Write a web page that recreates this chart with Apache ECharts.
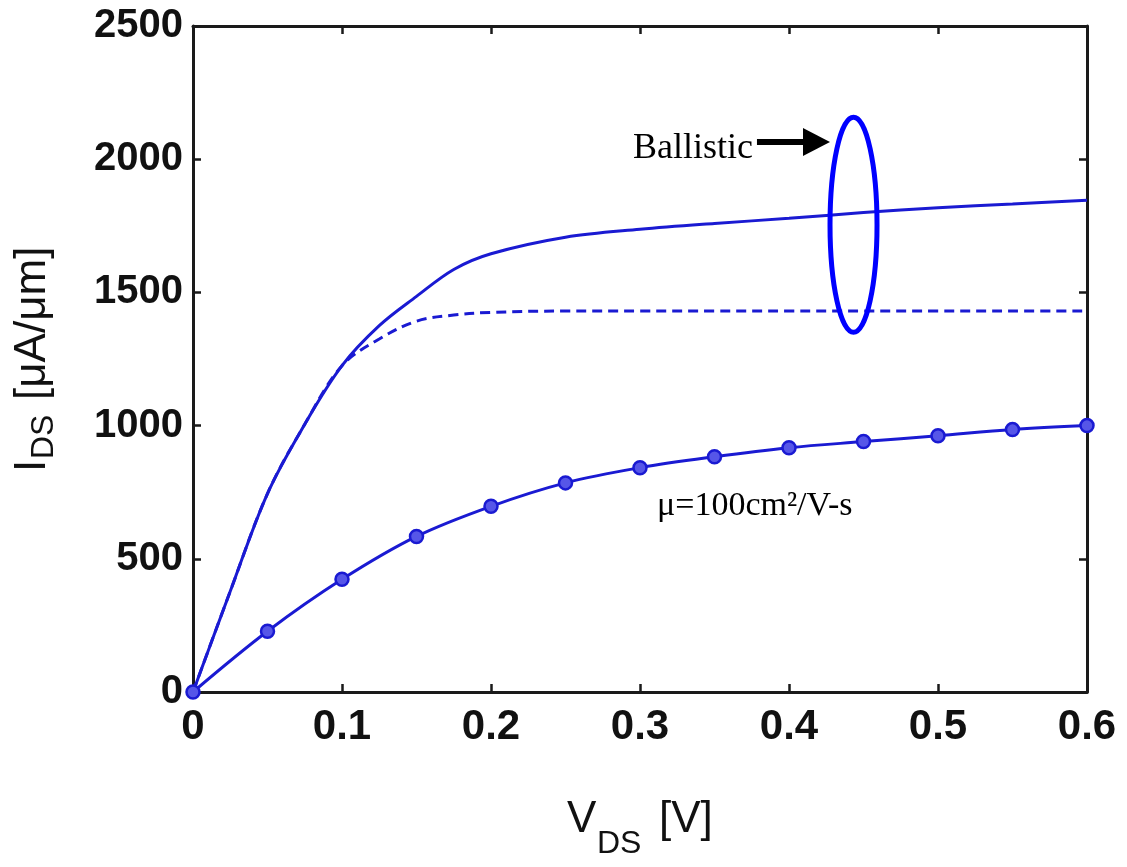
<!DOCTYPE html>
<html>
<head>
<meta charset="utf-8">
<title>I-V characteristics</title>
<script src="https://cdn.jsdelivr.net/npm/echarts@6/dist/echarts.min.js"></script>
<style>
  html, body { margin: 0; padding: 0; background: #fff; }
  #chart { width: 1127px; height: 867px; }
</style>
</head>
<body>
<div id="chart"></div>
<script>
// Drain voltage samples (V)
const vdsFine = [0, 0.025, 0.05, 0.075, 0.1, 0.125, 0.15, 0.175, 0.2, 0.25, 0.3, 0.35, 0.4, 0.45, 0.5, 0.55, 0.6];
const vdsCoarse = [0, 0.05, 0.1, 0.15, 0.2, 0.25, 0.3, 0.35, 0.4, 0.45, 0.5, 0.55, 0.6];

// Drain current (uA/um)
const idsBallisticSolid = [0, 378, 745, 1005, 1225, 1375, 1485, 1586, 1645, 1707, 1737, 1759, 1778, 1800, 1818, 1832, 1846];
const idsBallisticDashed = [0, 378, 745, 1005, 1225, 1325, 1392, 1415, 1425, 1430, 1430, 1430, 1430, 1430, 1430, 1430, 1430];
const idsMobility = [0, 228, 423, 584, 697, 785, 842, 883, 917, 940, 962, 985, 1000];

// Tick labels
const xTickLabels = ['0', '0.1', '0.2', '0.3', '0.4', '0.5', '0.6'];
const yTickLabels = ['0', '500', '1000', '1500', '2000', '2500'];

const LINE_BLUE = '#1a1ad2';
const AXIS_COLOR = '#1a1a1a';
const SANS = '"Liberation Sans", Arial, Helvetica, sans-serif';
const SERIF = '"Liberation Serif", "Times New Roman", serif';

const pairs = (xs, ys) => xs.map((x, i) => [x, ys[i]]);

const axisLineStyle = { show: true, onZero: false, lineStyle: { color: AXIS_COLOR, width: 3 } };
const axisTickStyle = { show: true, inside: true, length: 8, lineStyle: { color: AXIS_COLOR, width: 2.5 } };

const chart = echarts.init(document.getElementById('chart'), null, { renderer: 'canvas' });

const option = {
  backgroundColor: '#ffffff',
  animation: false,
  grid: { left: 193, right: 40, top: 26, bottom: 175, containLabel: false },
  xAxis: [
    {
      type: 'value', position: 'bottom', min: 0, max: 0.6, interval: 0.1,
      axisLine: axisLineStyle, axisTick: axisTickStyle, splitLine: { show: false },
      axisLabel: {
        margin: 14, color: '#111', fontFamily: SANS, fontSize: 42, fontWeight: 'bold',
        formatter: v => xTickLabels[Math.round(v / 0.1)]
      }
    },
    {
      type: 'value', position: 'top', min: 0, max: 0.6, interval: 0.1,
      axisLine: axisLineStyle, axisTick: axisTickStyle, splitLine: { show: false },
      axisLabel: { show: false }
    }
  ],
  yAxis: [
    {
      type: 'value', position: 'left', min: 0, max: 2500, interval: 500,
      axisLine: axisLineStyle, axisTick: axisTickStyle, splitLine: { show: false },
      axisLabel: {
        margin: 10, color: '#111', fontFamily: SANS, fontSize: 40, fontWeight: 'bold',
        formatter: v => yTickLabels[Math.round(v / 500)]
      }
    },
    {
      type: 'value', position: 'right', min: 0, max: 2500, interval: 500,
      axisLine: axisLineStyle, axisTick: axisTickStyle, splitLine: { show: false },
      axisLabel: { show: false }
    }
  ],
  series: [
    {
      name: 'Ballistic', type: 'line', xAxisIndex: 0, yAxisIndex: 0,
      data: pairs(vdsFine, idsBallisticSolid),
      smooth: 0.35, showSymbol: false,
      lineStyle: { color: LINE_BLUE, width: 3 }, z: 3
    },
    {
      name: 'Ballistic (saturated)', type: 'line', xAxisIndex: 0, yAxisIndex: 0,
      data: pairs(vdsFine, idsBallisticDashed),
      smooth: 0.35, showSymbol: false,
      lineStyle: { color: LINE_BLUE, width: 3, type: [10, 6] }, z: 3
    },
    {
      name: 'mu = 100', type: 'line', xAxisIndex: 0, yAxisIndex: 0,
      data: pairs(vdsCoarse, idsMobility),
      smooth: 0.35,
      symbol: 'circle', symbolSize: 13, clip: false,
      itemStyle: { color: '#5656e8', borderColor: LINE_BLUE, borderWidth: 2.5 },
      lineStyle: { color: LINE_BLUE, width: 3 }, z: 4
    }
  ]
};

chart.setOption(option);

// Annotations anchored in data space
const px = (x, y) => chart.convertToPixel({ gridIndex: 0 }, [x, y]);

const ellipseCenter = px(0.4433, 1754);
const arrowTail = px(0.3785, 2065);
const arrowTip = px(0.4275, 2065);
const ballisticAnchor = px(0.2953, 1996);
const mobilityAnchor = px(0.3114, 654);

const headLen = 27, headHalf = 14;

chart.setOption({
  graphic: [
    {
      type: 'ellipse',
      shape: { cx: ellipseCenter[0], cy: ellipseCenter[1], rx: 23.5, ry: 107.5 },
      style: { fill: 'none', stroke: '#0000ff', lineWidth: 5 },
      z: 10
    },
    {
      type: 'line',
      shape: { x1: arrowTail[0], y1: arrowTail[1], x2: arrowTip[0] - headLen + 2, y2: arrowTip[1] },
      style: { stroke: '#000', lineWidth: 6 },
      z: 10
    },
    {
      type: 'polygon',
      shape: { points: [
        [arrowTip[0] - headLen, arrowTip[1] - headHalf],
        [arrowTip[0], arrowTip[1]],
        [arrowTip[0] - headLen, arrowTip[1] + headHalf]
      ] },
      style: { fill: '#000' },
      z: 10
    },
    {
      type: 'text', x: ballisticAnchor[0], y: ballisticAnchor[1] - 12,
      style: { text: 'Ballistic', fill: '#000', font: '36px ' + SERIF, align: 'left', verticalAlign: 'middle' },
      z: 10
    },
    {
      type: 'text', x: mobilityAnchor[0], y: mobilityAnchor[1] - 11.5,
      style: { text: 'μ=100cm²/V-s', fill: '#000', font: '34px ' + SERIF, align: 'left', verticalAlign: 'middle' },
      z: 10
    },
    // x-axis title: V_DS [V]
    {
      type: 'group', x: 567, y: 835,
      children: [
        { type: 'text', x: 0, y: -15.2, style: { text: 'V', fill: '#111', font: '44px ' + SANS, verticalAlign: 'middle' } },
        { type: 'text', x: 30, y: 20 - 11, style: { text: 'DS', fill: '#111', font: '32px ' + SANS, verticalAlign: 'middle' } },
        { type: 'text', x: 92, y: -15.2, style: { text: '[V]', fill: '#111', font: '44px ' + SANS, verticalAlign: 'middle' } }
      ]
    },
    // y-axis title: I_DS [uA/um], reading bottom to top
    {
      type: 'group', x: 48, y: 472, rotation: Math.PI / 2,
      children: [
        { type: 'text', x: 0, y: -15.2, style: { text: 'I', fill: '#111', font: '44px ' + SANS, verticalAlign: 'middle' } },
        { type: 'text', x: 13, y: 7 - 11, style: { text: 'DS', fill: '#111', font: '32px ' + SANS, verticalAlign: 'middle' } },
        { type: 'text', x: 72, y: -15.2, style: { text: '[μA/μm]', fill: '#111', font: '44px ' + SANS, verticalAlign: 'middle' } }
      ]
    }
  ]
});
</script>
</body>
</html>
